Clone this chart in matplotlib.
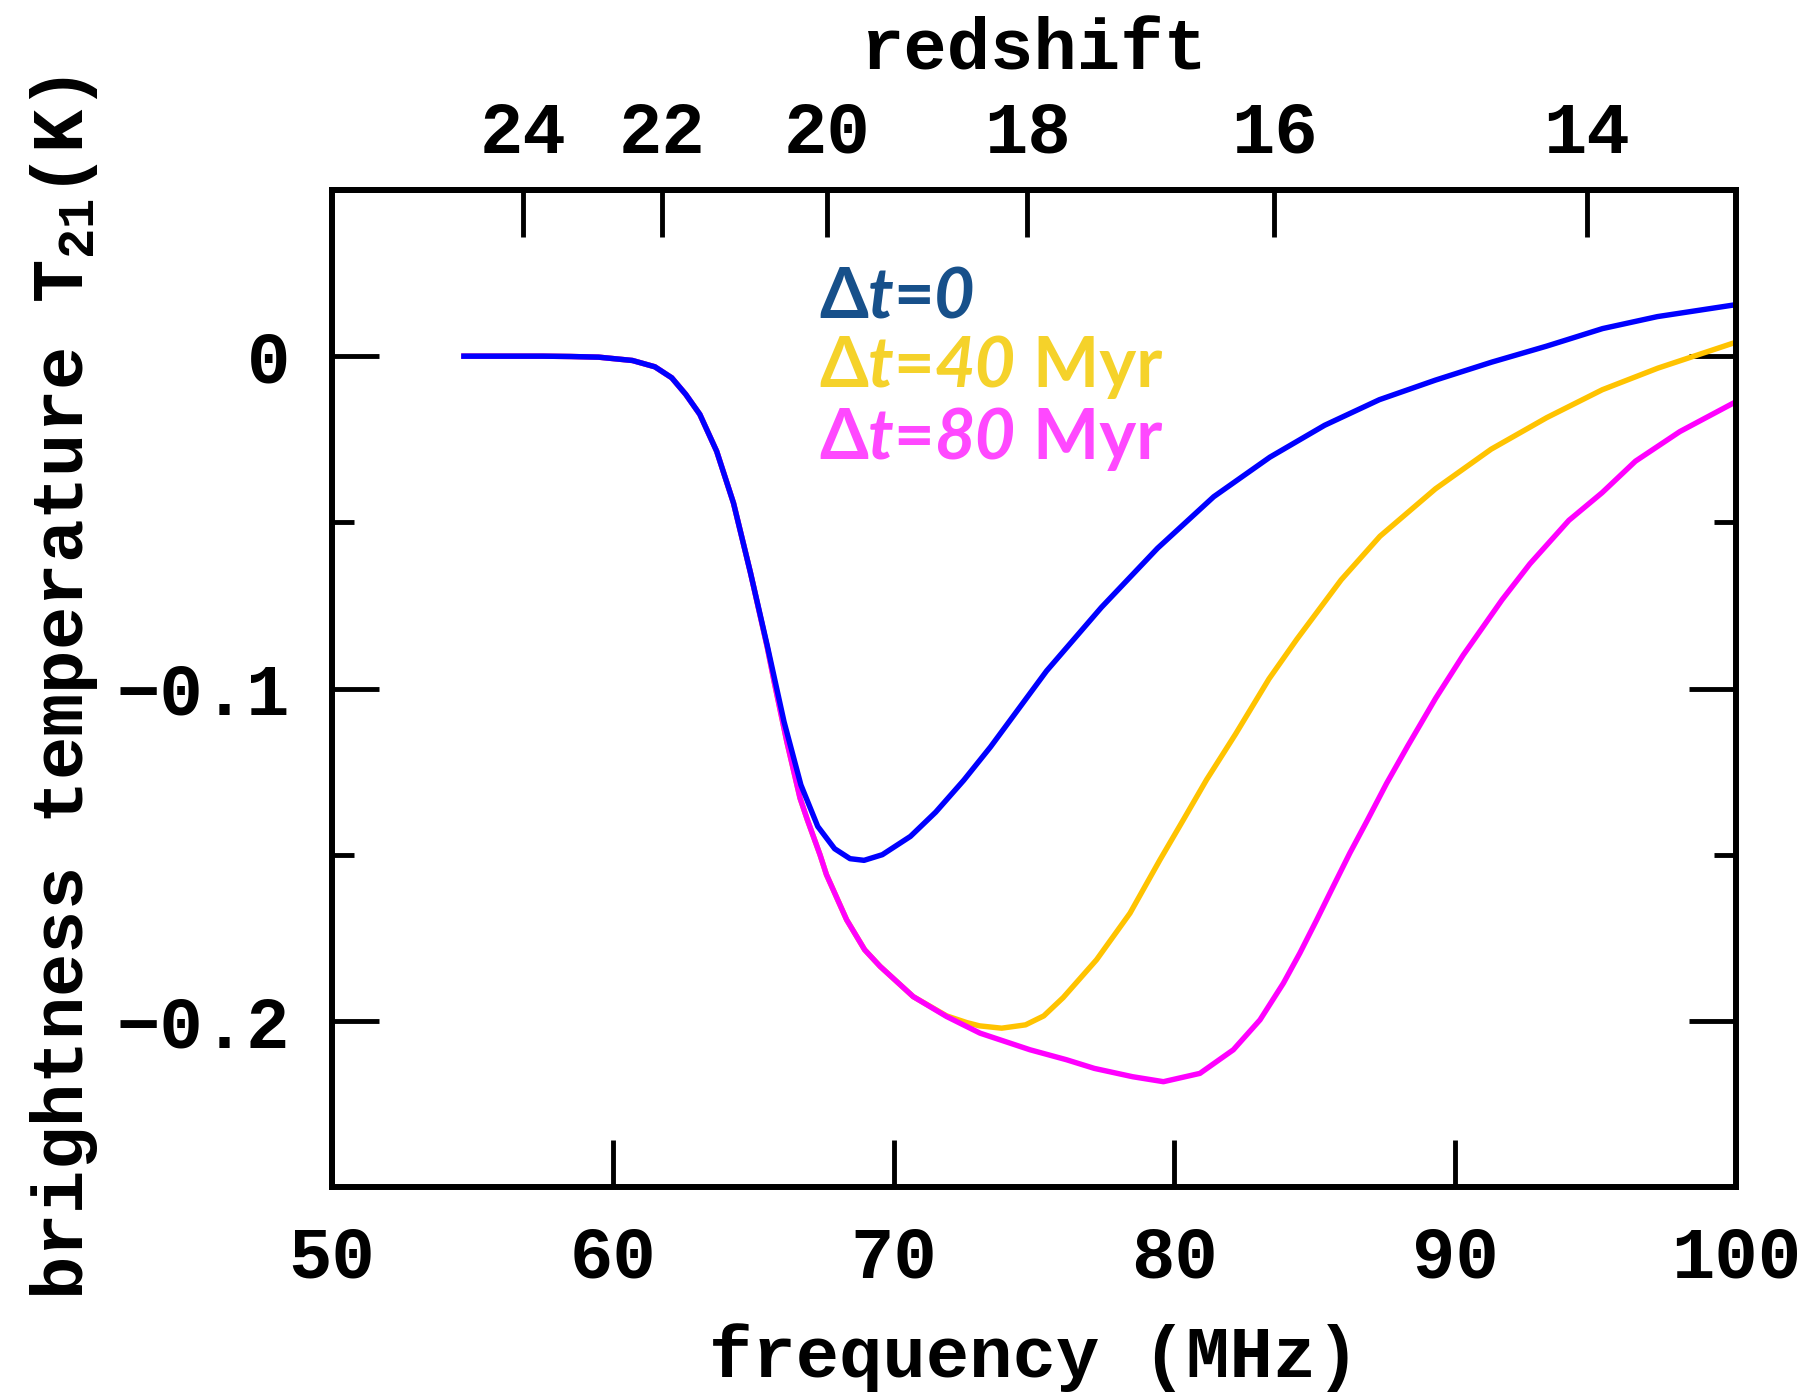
import numpy as np
import matplotlib
matplotlib.use("Agg")
import matplotlib.pyplot as plt
from matplotlib.transforms import offset_copy

# ---------------- data ----------------
blue_freq = [54.7, 56.0, 57.5, 58.5, 59.5, 60.7, 61.5, 62.1, 62.6, 63.1, 63.7, 64.3,
             64.9, 65.5, 66.1, 66.7, 67.3, 67.9, 68.45, 68.95, 69.6, 70.6, 71.5, 72.5,
             73.45, 75.45, 77.4, 79.4, 81.4, 83.4, 85.35, 87.3, 89.3, 91.3, 93.25,
             95.25, 97.2, 100.0]
blue_T = [0.0, 0.0, 0.0, -0.0001, -0.0003, -0.0013, -0.0032, -0.0065, -0.0115, -0.0175,
          -0.0286, -0.0442, -0.0650, -0.0870, -0.1100, -0.1290, -0.1415, -0.1482,
          -0.1512, -0.1517, -0.1500, -0.1445, -0.1372, -0.1276, -0.1176, -0.0947,
          -0.0756, -0.0578, -0.0423, -0.0304, -0.0208, -0.0131, -0.0072, -0.0018,
          0.0030, 0.0083, 0.0119, 0.0155]

mag_freq = [54.7, 56.0, 57.5, 58.5, 59.5, 60.7, 61.5, 62.1, 62.6, 63.1, 63.7, 64.3,
            64.9, 65.5, 65.75, 66.2, 66.67, 66.93, 67.38, 67.61, 68.33, 68.97, 69.52,
            70.70, 71.89, 73.08, 74.86, 76.16, 77.15, 78.51, 79.61, 80.91, 82.10,
            83.05, 83.88, 84.47, 85.07, 85.66, 86.25, 86.85, 87.56, 88.31, 89.30,
            90.29, 91.67, 92.66, 94.05, 95.23, 96.42, 98.0, 100.0]
mag_T = [0.0, 0.0, 0.0, -0.0001, -0.0003, -0.0013, -0.0032, -0.0065, -0.0115, -0.0175,
         -0.0286, -0.0442, -0.0650, -0.0875, -0.0980, -0.1160, -0.1330, -0.1395,
         -0.1500, -0.1560, -0.1696, -0.1786, -0.1836, -0.1927, -0.1987, -0.2037,
         -0.2087, -0.2117, -0.2143, -0.2168, -0.2183, -0.2158, -0.2087, -0.1997,
         -0.1887, -0.1796, -0.1696, -0.1595, -0.1495, -0.1400, -0.1285, -0.1173,
         -0.1030, -0.0899, -0.0733, -0.0625, -0.0494, -0.0411, -0.0316, -0.0227,
         -0.0137]

yel_freq = [54.7, 56.0, 57.5, 58.5, 59.5, 60.7, 61.5, 62.1, 62.6, 63.1, 63.7, 64.3,
            64.9, 65.5, 65.75, 66.2, 66.67, 66.93, 67.38, 67.61, 68.33, 68.97, 69.52,
            70.70, 71.89, 72.60, 73.06, 73.85, 74.70, 75.35, 76.04, 77.23, 78.42,
            79.49, 80.32, 81.15, 82.18, 83.37, 84.36, 85.94, 87.32, 89.30, 91.28,
            93.26, 95.24, 97.22, 100.0]
yel_T = [0.0, 0.0, 0.0, -0.0001, -0.0003, -0.0013, -0.0032, -0.0065, -0.0115, -0.0175,
         -0.0286, -0.0442, -0.0650, -0.0875, -0.0980, -0.1160, -0.1330, -0.1395,
         -0.1500, -0.1560, -0.1696, -0.1786, -0.1836, -0.1927, -0.1985, -0.2005,
         -0.2015, -0.2022, -0.2012, -0.1985, -0.1930, -0.1816, -0.1676, -0.1515,
         -0.1395, -0.1274, -0.1137, -0.0971, -0.0852, -0.0673, -0.0542, -0.0399,
         -0.0280, -0.0185, -0.0101, -0.0036, 0.0042]

x_ticks = [50, 60, 70, 80, 90, 100]
x_ticklabels = ["50", "60", "70", "80", "90", "100"]
y_major = [0.0, -0.1, -0.2]
y_major_labels = ["0", "\u22120.1", "\u22120.2"]
y_minor = [-0.05, -0.15]
z_ticks = [24, 22, 20, 18, 16, 14]
z_ticklabels = ["24", "22", "20", "18", "16", "14"]
NU21 = 1420.4  # MHz

legend_rows = [
    ([("\u0394", "normal"), ("t", "italic"), ("=", "normal"), ("0", "italic")], "#17508A"),
    ([("\u0394", "normal"), ("t", "italic"), ("=", "normal"), ("40", "italic"), (" Myr", "normal")], "#F5D22A"),
    ([("\u0394", "normal"), ("t", "italic"), ("=", "normal"), ("80", "italic"), (" Myr", "normal")], "#FF48FF"),
]

# ---------------- style ----------------
plt.rcParams['font.family'] = ['Liberation Mono', 'DejaVu Sans']
plt.rcParams['font.weight'] = 'bold'
plt.rcParams['axes.labelweight'] = 'bold'
plt.rcParams['axes.unicode_minus'] = True
plt.rcParams['mathtext.fontset'] = 'custom'
plt.rcParams['mathtext.rm'] = 'Liberation Mono:bold'
plt.rcParams['mathtext.it'] = 'Liberation Mono:bold'
plt.rcParams['mathtext.bf'] = 'Liberation Mono:bold'

FS = 52
LW_SPINE = 4.3
LW_TICK = 3.5
LW_LINE = 3.9

fig = plt.figure(figsize=(18.10, 13.98), dpi=100)
ax = fig.add_axes([0.1834, 0.1509, 0.7757, 0.7132])

ax.plot(yel_freq, yel_T, color='#FFC300', lw=LW_LINE, solid_joinstyle='round')
ax.plot(mag_freq, mag_T, color='#FF00FF', lw=LW_LINE, solid_joinstyle='round')
ax.plot(blue_freq, blue_T, color='#0000FF', lw=LW_LINE, solid_joinstyle='round')

ax.set_xlim(50, 100)
ax.set_ylim(-0.25, 0.05)

ax.set_xticks(x_ticks)
ax.set_xticklabels(x_ticklabels)
ax.set_yticks(y_major)
ax.set_yticklabels(y_major_labels)
ax.set_yticks(y_minor, minor=True)

ax.tick_params(axis='both', which='major', direction='in', length=34, width=LW_TICK,
               labelsize=FS)
ax.tick_params(axis='y', which='both', left=True, right=True)
ax.tick_params(axis='y', which='minor', direction='in', length=16, width=LW_TICK)
ax.tick_params(axis='y', which='major', pad=30)
ax.tick_params(axis='x', which='major', top=False, pad=27)
for s in ax.spines.values():
    s.set_linewidth(LW_SPINE)

ax.set_xlabel("frequency (MHz)", fontsize=FS, fontweight='bold', labelpad=22)
ax.set_ylabel(r"brightness temperature T$_{\mathrm{21}}$(K)", fontsize=FS,
              fontweight='bold', labelpad=12)


def f2z(f):
    f = np.asarray(f, dtype=float)
    with np.errstate(divide='ignore', invalid='ignore'):
        return NU21 / f - 1.0


def z2f(z):
    z = np.asarray(z, dtype=float)
    with np.errstate(divide='ignore', invalid='ignore'):
        return NU21 / (1.0 + z)


sec = ax.secondary_xaxis('top', functions=(f2z, z2f))
sec.set_xticks(z_ticks)
sec.set_xticklabels(z_ticklabels)
sec.tick_params(axis='x', direction='in', length=34, width=LW_TICK, labelsize=FS, pad=16)
sec.spines['top'].set_linewidth(LW_SPINE)
sec.set_xlabel("redshift", fontsize=FS, fontweight='bold', labelpad=22)

# ---------------- legend-like coloured text ----------------
renderer = fig.canvas.get_renderer()
legend_x = 67.35
legend_y = [0.0114, -0.0093, -0.0310]
for (pieces, color), ly in zip(legend_rows, legend_y):
    tr = ax.transData
    for s, style in pieces:
        txt = ax.text(legend_x, ly, s, transform=tr, color=color, fontsize=50.5,
                      fontweight='bold', fontstyle=style,
                      family=['Lato', 'DejaVu Sans'], va='baseline', ha='left')
        txt.draw(renderer)
        ex = txt.get_window_extent(renderer)
        tr = offset_copy(txt.get_transform(), fig=fig, x=ex.width, units='dots')

fig.savefig("out.png", dpi=100)
